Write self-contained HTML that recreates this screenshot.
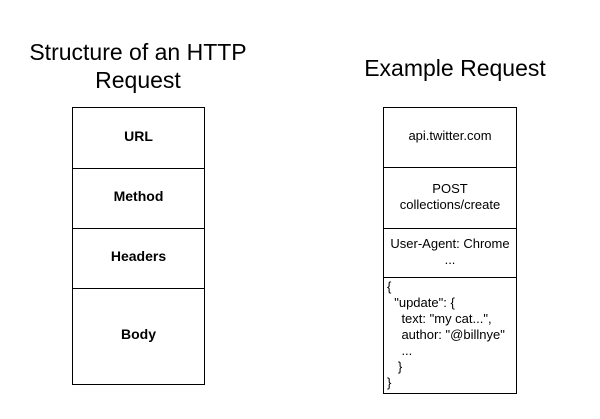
<!DOCTYPE html>
<html><head><style>
body{margin:0;width:600px;height:419px;background:#fff;font-family:"Liberation Sans",sans-serif;position:relative;overflow:hidden}
.t{position:absolute;font-size:23px;color:#000;text-align:center;line-height:28px}
.b{position:absolute;border:1px solid #000;box-sizing:border-box;display:flex;align-items:center;justify-content:center;text-align:center;font-size:13px;line-height:16px;padding-bottom:3px}
.l{font-weight:bold;font-size:14px;padding-bottom:5px}
</style></head><body>
<div class="t" style="left:18px;width:240px;top:38px">Structure of an HTTP<br>Request</div>
<div class="t" style="left:335px;width:240px;top:54px">Example Request</div>

<div class="b l" style="left:72px;top:107px;width:133px;height:62px">URL</div>
<div class="b l" style="left:72px;top:168px;width:133px;height:61px">Method</div>
<div class="b l" style="left:72px;top:228px;width:133px;height:61px">Headers</div>
<div class="b l" style="left:72px;top:288px;width:133px;height:97px">Body</div>

<div class="b" style="left:383px;top:107px;width:134px;height:61px">api.twitter.com</div>
<div class="b" style="left:383px;top:167px;width:134px;height:62px">POST<br>collections/create</div>
<div class="b" style="left:383px;top:228px;width:134px;height:50px">User-Agent: Chrome<br>...</div>
<div class="b" style="left:383px;top:277px;width:134px;height:117px;justify-content:flex-start;align-items:flex-start;text-align:left;padding:1px 0 0 3px;white-space:pre">{
  "update": {
    text: "my cat...",
    author: "@billnye"
    ...
   }
}</div>
</body></html>
